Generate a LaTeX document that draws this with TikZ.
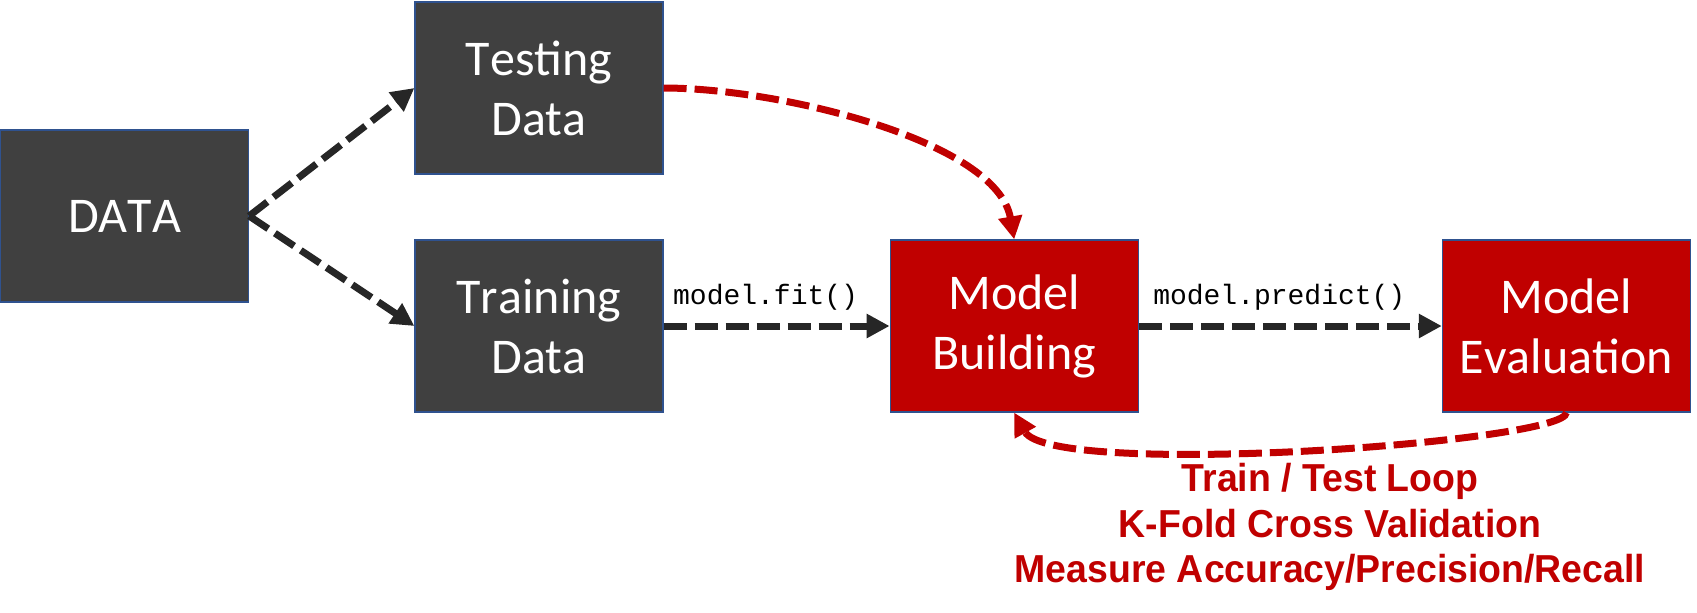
\documentclass[tikz,border=0pt]{standalone}
\usepackage{fontspec}
\setmainfont{Carlito}[Kerning=Off]
\setmonofont{Liberation Mono}
\newfontfamily\loopfont{Liberation Sans}[FakeStretch=0.96]
\usetikzlibrary{positioning, arrows.meta, calc}
\definecolor{boxgray}{HTML}{404040}
\definecolor{boxred}{HTML}{C00000}
\definecolor{edgeblue}{HTML}{2F528F}
\definecolor{arrowblack}{HTML}{262626}

\begin{document}
\begin{tikzpicture}[
  box/.style={rectangle, draw=edgeblue, line width=0.6pt, minimum width=124pt,
    minimum height=86pt, inner sep=0pt, align=center, text=white,
    font=\fontsize{25}{30}\selectfont},
  graybox/.style={box, fill=boxgray},
  redbox/.style={box, fill=boxred},
  darkedge/.style={draw=arrowblack, line width=3.5pt, dash pattern=on 11.5pt off 4pt,
    -{Triangle[length=11.5pt, width=11.5pt]}},
  rededge/.style={darkedge, draw=boxred},
  codelabel/.style={font=\ttfamily\fontsize{14}{16}\selectfont, above=3pt, xshift=-5.5pt}
]

\useasboundingbox (-62.25pt,108pt) rectangle (786.25pt,-198pt);

\node[graybox] (data) at (0,0) {DATA};
\node[graybox] (test) at (207.25pt,64pt) {Testing\\Data};
\node[graybox] (train) at (207.25pt,-55pt) {Training\\Data};
\node[redbox, right=113pt of train] (build) {Model\\Building};
\node[redbox, right=151.5pt of build] (eval) {Model\\Evaluation};

% split of the data
\draw[darkedge] (data.east) -- (test.west);
\draw[darkedge] (data.east) -- (train.west);

\draw[darkedge] (train.east) -- node[codelabel] {model.fit()} (build.west);
\draw[darkedge] (build.east) -- node[codelabel] {model.predict()} (eval.west);

% loops back into the model
\draw[rededge] (test.east) to[out=0, in=100, out distance=58pt, in distance=50pt] (build.north);
\draw[rededge] (eval.south) to[out=-90, in=-61, out distance=15pt, in distance=38pt] (build.south);

\node[text=boxred, font=\loopfont\bfseries\fontsize{19.5}{22.75}\selectfont,
  align=center, anchor=north, inner sep=0pt] (loop) at (602.75pt,-123.5pt)
  {Train / Test Loop\\K-Fold Cross Validation\\Measure Accuracy/Precision/Recall};

\end{tikzpicture}
\end{document}
